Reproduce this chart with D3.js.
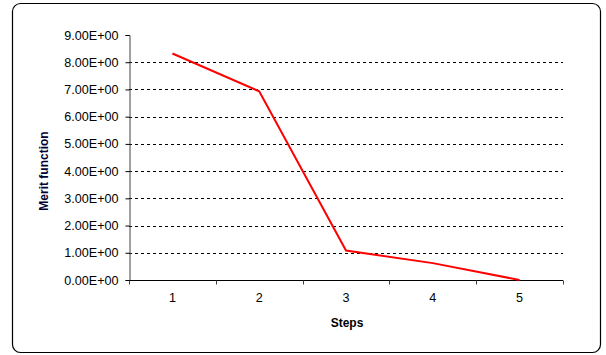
<!DOCTYPE html>
<html><head><meta charset="utf-8">
<script src="https://cdn.jsdelivr.net/npm/d3@7"></script>
<style>body{margin:0;background:#fff}svg{display:block}</style>
</head><body>
<svg id="c" width="606" height="355"></svg>
<script>
const steps = ["1","2","3","4","5"];
const merit = [8.32, 6.93, 1.08, 0.62, 0.0];
const yTicks = [0,1,2,3,4,5,6,7,8,9];

const FONT = 'Arial, "Liberation Sans", sans-serif';
const svg = d3.select("#c");
svg.append("rect").attr("x",12.5).attr("y",3.5).attr("width",588).attr("height",349)
  .attr("rx",8).attr("fill","#fff").attr("stroke","#000").attr("stroke-width",1.2);

const L=129, R=563, T=35, B=280;
const x = d3.scaleBand().domain(steps).range([L,R]);
const y = d3.scaleLinear().domain([0,9]).range([B,T]);

// gridlines
svg.append("g").selectAll("line").data(yTicks.filter(d=>d>0&&d<9)).join("line")
  .attr("x1",L).attr("x2",R).attr("y1",d=>Math.round(y(d))+0.5).attr("y2",d=>Math.round(y(d))+0.5)
  .attr("stroke","#000").attr("stroke-dasharray","3,3").attr("stroke-width",1);

// y axis
const ya = svg.append("g").attr("transform",`translate(${L+0.5},0)`)
  .call(d3.axisLeft(y).tickValues(yTicks).tickSize(4).tickPadding(7).tickFormat(d=>d.toFixed(2)+"E+00"));
ya.attr("font-size",null).attr("font-family",null);
ya.select(".domain").attr("stroke","#404040");
ya.selectAll(".tick line").attr("stroke","#000");
ya.selectAll("text").style("font-size","12.6px").style("font-family",FONT).attr("fill","#000");

// x axis
const xa = svg.append("g").attr("transform",`translate(0,${B+0.5})`)
  .call(d3.axisBottom(x).tickSize(0).tickPadding(13));
xa.attr("font-size",null).attr("font-family",null);
xa.select(".domain").attr("stroke","#000").attr("d",`M${L},0H${R}`);
xa.selectAll("text").style("font-size","12.6px").style("font-family",FONT).attr("fill","#000");
const bounds = [L].concat(steps.map(s=>x(s)+x.bandwidth()));
xa.append("g").selectAll("line").data(bounds).join("line")
  .attr("x1",d=>Math.round(d)+0.5).attr("x2",d=>Math.round(d)+0.5).attr("y1",0).attr("y2",4)
  .attr("stroke","#404040");

// line
svg.append("path").datum(merit)
  .attr("d", d3.line().x((d,i)=>x(steps[i])+x.bandwidth()/2).y(d=>y(d)))
  .attr("fill","none").attr("stroke","#ff0000").attr("stroke-width",2);

// titles
svg.append("text").attr("x",347).attr("y",327).attr("text-anchor","middle")
  .style("font-size","12px").style("font-family",FONT).attr("font-weight","bold").attr("fill","#000").text("Steps");
svg.append("text").attr("transform","translate(48,171) rotate(-90)").attr("text-anchor","middle")
  .style("font-size","12px").style("font-family",FONT).attr("font-weight","bold").attr("fill","#000033").text("Merit function");
</script>
</body></html>
